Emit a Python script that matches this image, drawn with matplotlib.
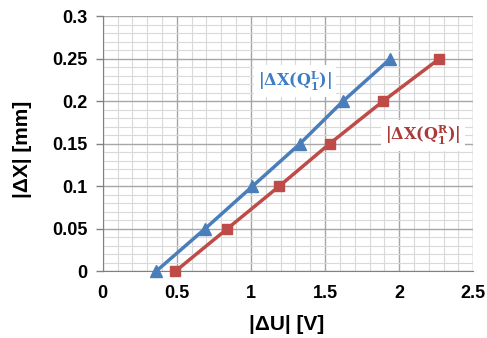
import matplotlib
matplotlib.use("Agg")
import matplotlib.pyplot as plt
from matplotlib.ticker import MultipleLocator

left_u = [0.36, 0.69, 1.01, 1.33, 1.62, 1.94]
left_x = [0.0, 0.05, 0.10, 0.15, 0.20, 0.25]
right_u = [0.49, 0.84, 1.19, 1.53, 1.89, 2.27]
right_x = [0.0, 0.05, 0.10, 0.15, 0.20, 0.25]
xticks = [0, 0.5, 1, 1.5, 2, 2.5]
yticks = [0, 0.05, 0.1, 0.15, 0.2, 0.25, 0.3]

blue = "#4A7EBB"
red = "#BE4B48"

plt.rcParams['font.family'] = ['Liberation Sans', 'DejaVu Sans']
plt.rcParams['mathtext.fontset'] = 'dejavuserif'

fig = plt.figure(figsize=(4.87, 3.38), dpi=100)
ax = fig.add_axes([102.7/487, 1 - 271.3/338, (473.3-102.7)/487, (271.3-16.3)/338])

ax.set_xlim(0, 2.5)
ax.set_ylim(0, 0.3)
ax.xaxis.set_major_locator(MultipleLocator(0.5))
ax.xaxis.set_minor_locator(MultipleLocator(0.1))
ax.yaxis.set_major_locator(MultipleLocator(0.05))
ax.yaxis.set_minor_locator(MultipleLocator(0.01))
ax.grid(which='major', color='#A6A6A6', linewidth=1.0)
ax.grid(which='minor', color='#D9D9D9', linewidth=0.8)
ax.set_axisbelow(True)

ax.set_xticks(xticks)
ax.set_xticklabels([f"{t:g}" for t in xticks], fontweight='bold', fontsize=13)
ax.set_yticks(yticks)
ax.set_yticklabels([f"{t:g}" for t in yticks], fontweight='bold', fontsize=13)
ax.tick_params(axis='y', which='major', length=5, color='#808080', width=1, pad=6)
ax.tick_params(axis='both', which='minor', length=0)
ax.tick_params(axis='x', which='major', length=0, pad=10)

for s in ['top', 'right']:
    ax.spines[s].set_visible(False)
ax.spines['left'].set_color('#808080')
ax.spines['bottom'].set_color('#808080')

ax.plot(left_u, left_x, color=blue, linewidth=2.5, marker='^', markersize=8, clip_on=False, zorder=3)
ax.plot(right_u, right_x, color=red, linewidth=2.5, marker='s', markersize=7, clip_on=False, zorder=3)

ax.set_xlabel("|ΔU| [V]", fontweight='bold', fontsize=15)
ax.set_ylabel("|ΔX| [mm]", fontweight='bold', fontsize=15)
ax.xaxis.set_label_coords(0.497, -0.172)
ax.yaxis.set_label_coords(-0.19, 0.48)

ax.text(1.30, 0.224, r"$\mathbf{|\Delta X(Q_1^L)|}$", color="#3C7DC4", fontsize=11.5,
        ha='center', va='center', bbox=dict(facecolor='white', edgecolor='none', pad=3), zorder=4)
ax.text(2.16, 0.160, r"$\mathbf{|\Delta X(Q_1^R)|}$", color="#A93A38", fontsize=11.5,
        ha='center', va='center', bbox=dict(facecolor='white', edgecolor='none', pad=3), zorder=4)

fig.savefig("out.png", dpi=100)
